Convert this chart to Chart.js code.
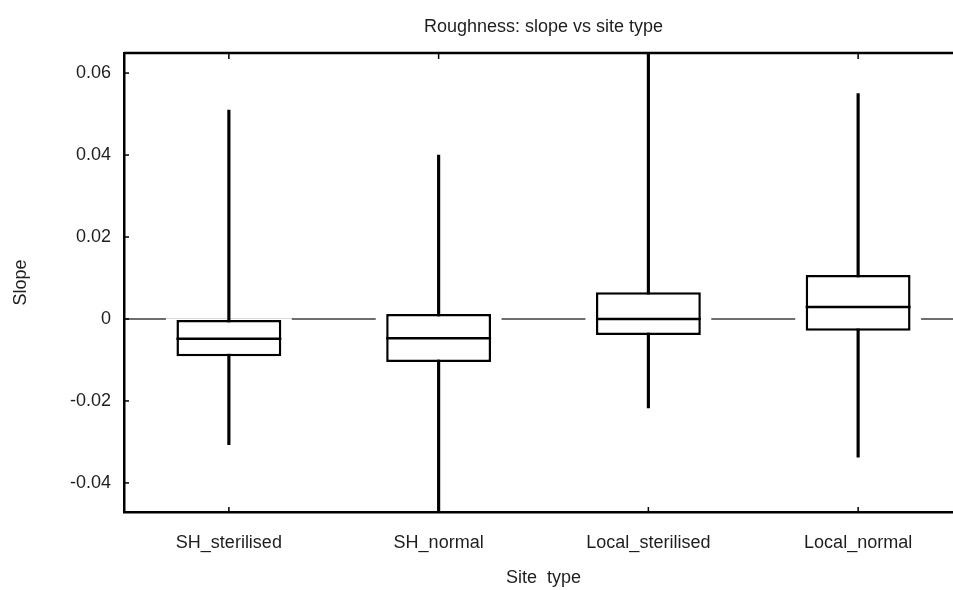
<!DOCTYPE html>
<html>
<head>
<meta charset="utf-8">
<script src="https://cdn.jsdelivr.net/npm/chart.js@4.4.1/dist/chart.umd.min.js"></script>
<style>
  html, body { margin: 0; padding: 0; background: #fff; overflow: hidden; }
  #wrap { width: 980px; height: 590px; }
</style>
</head>
<body>
<div id="wrap"><canvas id="myChart_Slope" width="980" height="590"></canvas></div>
<script>
// categories and box statistics
var siteTypes = ["SH_sterilised", "SH_normal", "Local_sterilised", "Local_normal"];
var whiskerMin = [-0.0307, -0.0500, -0.0217, -0.0337];
var boxQ1 = [-0.0091, -0.0105, -0.0039, -0.0029];
var boxMedian = [-0.0048, -0.0047, 0.0000, 0.0029];
var boxQ3 = [0.0000, 0.0012, 0.0065, 0.0107];
var whiskerMax = [0.0510, 0.0400, 0.0700, 0.0550];
var yTicks = [-0.04, -0.02, 0, 0.02, 0.04, 0.06];
var yMin = -0.0471;
var yMax = 0.0649;
var refLine = 0;

var textColor = "#1e1e1e";
var fontFamily = "'Liberation Sans', Arial, sans-serif";

// medians, frame and inward tick marks
var boxExtras = {
  id: "boxExtras",
  afterDatasetsDraw(chart) {
    var ctx = chart.ctx;
    var area = chart.chartArea;
    var x = chart.scales.x;
    var y = chart.scales.y;
    var boxMeta = chart.getDatasetMeta(2);
    ctx.save();
    ctx.strokeStyle = "#000";
    ctx.lineWidth = 2.5;
    boxMeta.data.forEach((bar, i) => {
      var py = y.getPixelForValue(boxMedian[i]);
      ctx.beginPath();
      ctx.moveTo(bar.x - bar.width / 2, py);
      ctx.lineTo(bar.x + bar.width / 2, py);
      ctx.stroke();
    });
    // top and right frame
    ctx.lineWidth = 2.5;
    ctx.beginPath();
    ctx.moveTo(area.left, area.top);
    ctx.lineTo(area.right, area.top);
    ctx.lineTo(area.right, area.bottom);
    ctx.stroke();
    // tick marks pointing into the plot
    ctx.lineWidth = 1.5;
    yTicks.forEach((v) => {
      var py = y.getPixelForValue(v);
      ctx.beginPath();
      ctx.moveTo(area.left, py);
      ctx.lineTo(area.left + 5, py);
      ctx.stroke();
    });
    siteTypes.forEach((c, i) => {
      var px = x.getPixelForValue(i);
      ctx.beginPath();
      ctx.moveTo(px, area.top);
      ctx.lineTo(px, area.top + 6);
      ctx.moveTo(px, area.bottom);
      ctx.lineTo(px, area.bottom - 5);
      ctx.stroke();
    });
    ctx.restore();
  },
};

function initializeChartSlope(ctx_Slope) {
  return new Chart(ctx_Slope, {
    type: "bar",
    data: {
      labels: siteTypes,
      datasets: [
        {
          // white gap around each box that interrupts the zero line
          label: "gap",
          data: siteTypes.map((c, i) => [Math.min(boxQ1[i], refLine) - 0.0002, Math.max(boxQ3[i], refLine) + 0.0002]),
          backgroundColor: "#fff",
          borderWidth: 0,
          barPercentage: 0.6,
          categoryPercentage: 1,
          grouped: false,
          order: 3,
        },
        {
          label: "whisker",
          data: siteTypes.map((c, i) => [whiskerMin[i], whiskerMax[i]]),
          backgroundColor: "#000",
          borderWidth: 0,
          barThickness: 2.5,
          grouped: false,
          order: 2,
        },
        {
          label: "box",
          data: siteTypes.map((c, i) => [boxQ1[i], boxQ3[i]]),
          backgroundColor: "#fff",
          borderColor: "#000",
          borderWidth: 2.5,
          borderSkipped: false,
          barPercentage: 0.5,
          categoryPercentage: 1,
          grouped: false,
          order: 1,
        },
      ],
    },
    options: {
      responsive: false,
      animation: false,
      // the plot runs past the right edge of the picture
      layout: { padding: { left: 0, right: 17, top: 0, bottom: 0 } },
      plugins: {
        legend: { display: false },
        tooltip: { enabled: false },
        title: {
          display: true,
          fullSize: false, // centred over the plot, not the canvas
          text: "Roughness: slope vs site type",
          color: textColor,
          font: { family: fontFamily, size: 18, weight: "normal" },
          padding: { top: 16, bottom: 15.4 },
        },
      },
      scales: {
        x: {
          offset: true,
          grid: { display: false, drawTicks: false },
          border: { display: true, color: "#000", width: 2.5 },
          ticks: {
            color: textColor,
            font: { family: fontFamily, size: 18 },
            padding: 20,
            maxRotation: 0,
          },
          title: {
            display: true,
            text: "Site  type",
            color: textColor,
            font: { family: fontFamily, size: 18 },
            padding: { top: 0, bottom: 1 },
          },
          afterFit: (scale) => { scale.height = 78; },
        },
        y: {
          min: yMin,
          max: yMax,
          afterBuildTicks: (scale) => { scale.ticks = yTicks.map((v) => ({ value: v })); },
          grid: {
            drawTicks: false,
            lineWidth: 2,
            color: (c) => (c.tick && c.tick.value === refLine ? "#6e6e6e" : "rgba(0,0,0,0)"),
          },
          border: { display: true, color: "#000", width: 2.5 },
          ticks: {
            color: textColor,
            font: { family: fontFamily, size: 18 },
            padding: 13,
            callback: (v) => (v === 0 ? "0" : Number(v).toFixed(2)),
          },
          title: {
            display: true,
            text: "Slope",
            color: textColor,
            font: { family: fontFamily, size: 18 },
            padding: { top: 10, bottom: 0 },
          },
          afterFit: (scale) => { scale.width = 124; },
        },
      },
    },
    plugins: [boxExtras],
  });
}

window.addEventListener("load", function () {
  var ctx_Slope = document.getElementById("myChart_Slope").getContext("2d");
  initializeChartSlope(ctx_Slope);
});
</script>
</body>
</html>
